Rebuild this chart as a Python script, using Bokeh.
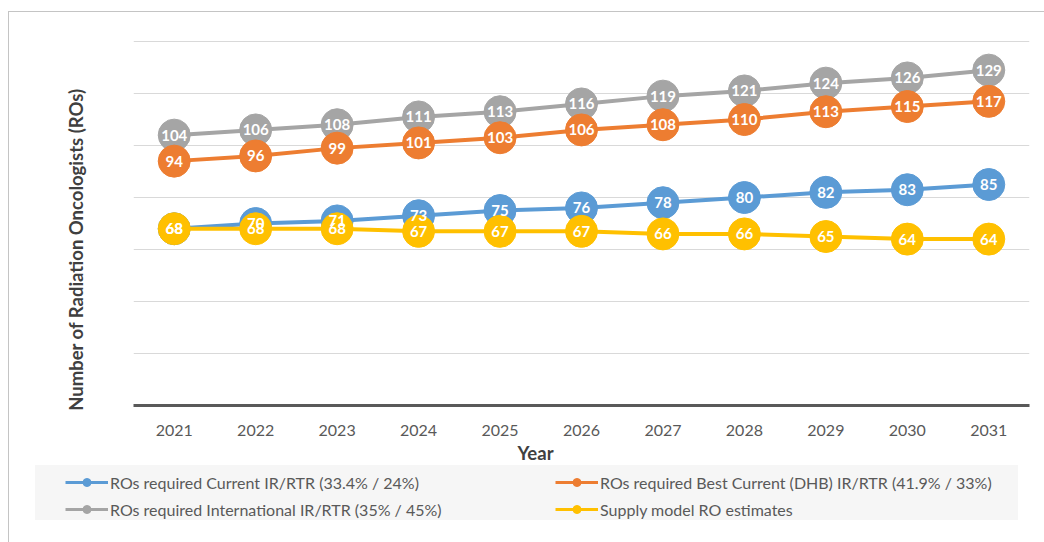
import math
from bokeh.plotting import figure
from bokeh.layouts import column, row
from bokeh.models import Legend, LegendItem, Label, FixedTicker, Range1d
from bokeh.embed import file_html
from bokeh.resources import INLINE
from bokeh.core.properties import value

years = ["2021", "2022", "2023", "2024", "2025", "2026", "2027", "2028", "2029", "2030", "2031"]
current = [68, 70, 71, 73, 75, 76, 78, 80, 82, 83, 85]
best = [94, 96, 99, 101, 103, 106, 108, 110, 113, 115, 117]
intl = [104, 106, 108, 111, 113, 116, 119, 121, 124, 126, 129]
supply = [68, 68, 68, 67, 67, 67, 66, 66, 65, 64, 64]
series_names = [
    "ROs required Current IR/RTR (33.4% / 24%)",
    "ROs required Best Current (DHB) IR/RTR (41.9% / 33%)",
    "ROs required International IR/RTR (35% / 45%)",
    "Supply model RO estimates",
]
series_colors = ["#5B9BD5", "#ED7D31", "#A5A5A5", "#FFC000"]
y_ticks = [0, 20, 40, 60, 80, 100, 120, 140]
y_title = "Number of Radiation Oncologists (ROs)"
x_title = "Year"

FONT = "Lato"
TXT = "#595959"
TTL = "#404040"


def blank_fig(w, h):
    f = figure(frame_width=w, frame_height=h, x_range=Range1d(0, 1), y_range=Range1d(0, 1),
               x_axis_type=None, y_axis_type=None, min_border=0,
               output_backend="svg", toolbar_location=None)
    f.outline_line_color = None
    f.background_fill_color = "white"
    f.border_fill_color = "white"
    return f


# ---------------- main chart ----------------
p = figure(x_range=years, y_range=(0, 140.4), frame_width=896, frame_height=365,
           min_border_left=0, min_border_right=15, min_border_top=28, min_border_bottom=37,
           output_backend="svg", toolbar_location=None)
p.outline_line_color = None
p.background_fill_color = "white"
p.border_fill_color = "white"

p.yaxis.visible = False
p.ygrid.ticker = FixedTicker(ticks=y_ticks)
p.ygrid.grid_line_color = "#d9d9d9"
p.ygrid.grid_line_width = 1
p.xgrid.grid_line_color = None

xa = p.xaxis[0]
xa.axis_line_color = "#595959"
xa.axis_line_width = 3
xa.major_tick_line_color = None
xa.minor_tick_line_color = None
xa.major_tick_out = 0
xa.major_tick_in = 0
xa.major_label_standoff = 19
xa.major_label_text_font = FONT
xa.major_label_text_font_size = "16px"
xa.major_label_text_color = TXT

data = {0: current, 1: best, 2: intl, 3: supply}
for i in [2, 1, 0, 3]:
    p.line(years, data[i], line_color=series_colors[i], line_width=4)
    p.scatter(years, data[i], size=32, fill_color=series_colors[i], line_color=series_colors[i])

for i in [0, 1, 2, 3]:
    p.text(years, data[i], text=[str(v) for v in data[i]], text_align="center",
           text_baseline="middle", text_color="white", text_font=value(FONT),
           text_font_style="bold", text_font_size="15px")

# ---------------- y title strip ----------------
yf = blank_fig(124, 430)
yf.add_layout(Label(x=66, y=221, x_units="screen", y_units="screen", text=y_title,
                    angle=math.pi / 2, text_align="center", text_baseline="middle",
                    text_font=FONT, text_font_style="bold", text_font_size="18.5px",
                    text_color=TTL))

# ---------------- legend strip ----------------
lf = blank_fig(1035, 100)

dummy = {}
for i in range(4):
    lr = lf.line(x=[-5, -4], y=[-5, -5], line_color=series_colors[i], line_width=3)
    sr = lf.scatter(x=[-5], y=[-5], size=8, fill_color=series_colors[i], line_color=series_colors[i])
    dummy[i] = [lr, sr]

bg_r = lf.line(x=[-5, -4], y=[-5, -5], line_alpha=0)
bg = Legend(items=[LegendItem(label=" ", renderers=[bg_r])], location=(26, 22),
            padding=0, spacing=0, margin=0, glyph_width=1, glyph_height=55,
            label_width=982, label_height=55, label_standoff=0,
            background_fill_color="#f6f6f6", background_fill_alpha=1,
            border_line_alpha=0)
lf.add_layout(bg)


def mk_legend(idx, loc):
    return Legend(items=[LegendItem(label=series_names[i], renderers=dummy[i]) for i in idx],
                  location=loc, padding=0, spacing=7, margin=0, glyph_width=43, glyph_height=20,
                  label_height=20, label_standoff=2, background_fill_alpha=0,
                  border_line_alpha=0, label_text_font=FONT, label_text_font_size="16px",
                  label_text_color=TXT)


lf.add_layout(mk_legend([0, 2], (56, 23)))
lf.add_layout(mk_legend([1, 3], (546, 23)))

lf.add_layout(Label(x=526, y=90, x_units="screen", y_units="screen", text=x_title,
                    text_align="center", text_baseline="middle",
                    text_font=FONT, text_font_style="bold", text_font_size="18.5px",
                    text_color=TTL))

layout = column(row(yf, p, spacing=0), lf, spacing=0,
                styles={"margin-left": "8px", "margin-top": "11px",
                        "border-left": "1px solid #c4c4c4", "border-top": "1px solid #c4c4c4"})

open("out.html", "w").write(file_html(layout, INLINE))
